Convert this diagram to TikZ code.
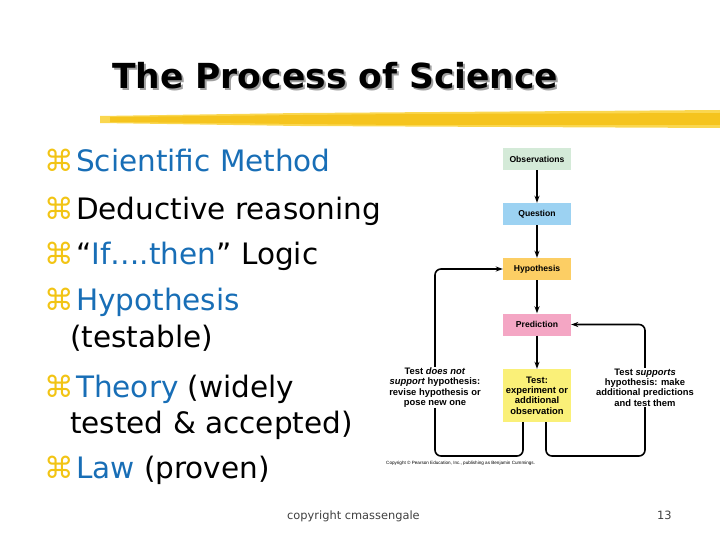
\documentclass[tikz,border=0pt]{standalone}
\usepackage{fontspec}
\setmainfont{DejaVu Sans}
\newfontfamily\diagfont{Liberation Sans}
\newfontfamily\footfont{DejaVu Sans}[Scale=0.95]
\usetikzlibrary{arrows.meta,positioning}

\definecolor{titleshadow}{RGB}{160,160,160}
\definecolor{highlight}{RGB}{245,196,30}
\definecolor{highlightlt}{RGB}{250,215,80}
\definecolor{bulletgold}{RGB}{242,196,20}
\definecolor{keyblue}{RGB}{24,110,182}
\definecolor{obsgreen}{RGB}{212,234,216}
\definecolor{qblue}{RGB}{156,210,242}
\definecolor{hyporange}{RGB}{252,206,100}
\definecolor{predpink}{RGB}{244,166,196}
\definecolor{testyellow}{RGB}{250,240,120}

\begin{document}
\begin{tikzpicture}[x=1pt, y=-1pt,
  bullet/.style={anchor=base west, inner sep=0pt, font=\fontsize{29.5}{30}\selectfont},
  bulletmark/.style={anchor=base west, inner sep=0pt, text=bulletgold, font=\fontsize{29.5}{30}\selectfont},
  stagebox/.style={draw=none, minimum width=68pt, minimum height=22pt, inner sep=1pt,
    font=\diagfont\bfseries\fontsize{8.6}{9}\selectfont},
  looplabel/.style={fill=white, align=center, inner sep=1pt,
    font=\diagfont\bfseries\fontsize{9.4}{10.4}\selectfont},
  arr/.style={-{Stealth[length=7pt, width=5pt]}, line width=1.6pt},
  loopline/.style={arr, rounded corners=6pt}
]
\useasboundingbox (0,0) rectangle (720,540);

% title with its shadow and the yellow stroke
\node[anchor=base west, inner sep=0pt, text=titleshadow, font=\bfseries\fontsize{34.5}{35}\selectfont]
  (titleshade) at (114,91) {The Process of Science};
\node[anchor=base west, inner sep=0pt, font=\bfseries\fontsize{34.5}{35}\selectfont]
  (title) at (112,89) {The Process of Science};
\fill[highlightlt] (100,116) -- (300,113) -- (720,110) -- (720,128) -- (300,126) -- (100,123) -- cycle;
\fill[highlight] (110,117) -- (400,114) -- (720,113) -- (720,125) -- (400,125) -- (110,122) -- cycle;

% bullet list
\foreach \name/\y in {b1/172, b2/219, b3/264, b4/310, b5/397, b6/478}
  \node[bulletmark] (\name) at (44,\y) {⌘};
\node[bullet, right=2pt of b1.base east, anchor=base west, text=keyblue] (method) {Scientific Method};
\node[bullet, right=2pt of b2.base east, anchor=base west] (deduct) {Deductive reasoning};
\node[bullet, right=2pt of b3.base east, anchor=base west] (ifthen) {“\textcolor{keyblue}{If….then}” Logic};
\node[bullet, right=2pt of b4.base east, anchor=base west, text=keyblue] (hypo) {Hypothesis};
\node[bullet] (testable) at (70,347) {(testable)};
\node[bullet, right=2pt of b5.base east, anchor=base west] (theory) {\textcolor{keyblue}{Theory} (widely};
\node[bullet] (tested) at (70,433) {tested \& accepted)};
\node[bullet, right=2pt of b6.base east, anchor=base west] (law) {\textcolor{keyblue}{Law} (proven)};

% process of science diagram
\node[stagebox, fill=obsgreen] (obs) at (537,159) {Observations};
\node[stagebox, fill=qblue] (quest) at (537,214) {Question};
\node[stagebox, fill=hyporange] (hyp) at (537,269) {Hypothesis};
\node[stagebox, fill=predpink] (pred) at (537,324.5) {Prediction};
\node[stagebox, fill=testyellow, minimum height=53pt, align=center,
  font=\diagfont\bfseries\fontsize{9.4}{10.4}\selectfont] (test) at (537,395.5)
  {Test:\\experiment or\\additional\\observation};
\draw[arr] (obs) -- (quest);
\draw[arr] (quest) -- (hyp);
\draw[arr] (hyp) -- (pred);
\draw[arr] (pred) -- (test);

\coordinate (lowleft) at (435,456);
\coordinate (lowright) at (645,456);
\draw[loopline] ([xshift=-14pt]test.south) |- (lowleft) |- (hyp.west);
\draw[loopline] ([xshift=9pt]test.south) |- (lowright) |- (pred.east);
\node[looplabel] (notsupp) at (435,387.5)
  {Test \textit{does not}\\\textit{support} hypothesis:\\revise hypothesis or\\pose new one};
\node[looplabel] (supp) at (645,387.5)
  {Test \textit{supports}\\hypothesis: make\\additional predictions\\and test them};
\node[anchor=west, inner sep=0pt, font=\diagfont\fontsize{4.6}{5}\selectfont] (pearson) at (386,463)
  {Copyright © Pearson Education, Inc., publishing as Benjamin Cummings.};

% footer
\node[anchor=base west, inner sep=0pt, text=black!75, font=\footfont\fontsize{12}{12}\selectfont]
  (credit) at (287,519) {copyright cmassengale};
\node[anchor=base west, inner sep=0pt, text=black!75, font=\footfont\fontsize{12}{12}\selectfont]
  (page) at (657,519) {13};
\end{tikzpicture}
\end{document}
